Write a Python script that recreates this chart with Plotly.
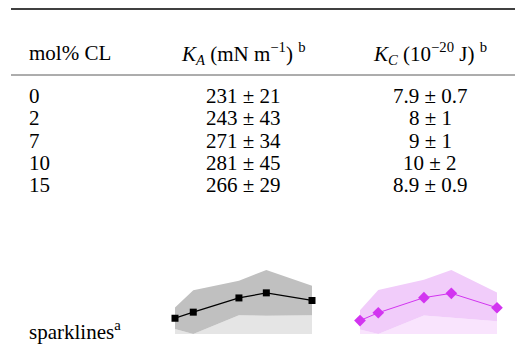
import plotly.graph_objects as go

# Table contents
mol_cl = [0, 2, 7, 10, 15]
ka_mean = [231, 243, 271, 281, 266]
ka_sd = [21, 43, 34, 45, 29]
kc_text = ["7.9 ± 0.7", "8 ± 1", "9 ± 1", "10 ± 2", "8.9 ± 0.9"]

# K_C sparkline series (centre line and band edges)
kc_spark_mid = [8.05, 8.66, 9.84, 10.18, 9.05]
kc_spark_low = [7.35, 7.0, 8.45, 8.26, 8.0]
kc_spark_high = [8.86, 10.44, 11.23, 12.0, 10.24]

W, H = 515, 344
FONT = "Liberation Serif, Times New Roman, serif"
FS = 21


def px(x):
    return x / W


def py(y):
    return 1 - y / H


fig = go.Figure()


def sparkline(xa, ya, mid, lower, upper, band, light, line, symbol, msize, lw):
    fig.add_trace(go.Scatter(x=mol_cl, y=lower, mode="lines", line=dict(width=0),
                             fill="tozeroy", fillcolor=light, xaxis=xa, yaxis=ya,
                             hoverinfo="skip", showlegend=False))
    fig.add_trace(go.Scatter(x=mol_cl, y=upper, mode="lines", line=dict(width=0),
                             fill="tonexty", fillcolor=band, xaxis=xa, yaxis=ya,
                             hoverinfo="skip", showlegend=False))
    fig.add_trace(go.Scatter(x=mol_cl, y=mid, mode="lines+markers",
                             line=dict(color=line, width=lw),
                             marker=dict(color=line, symbol=symbol, size=msize),
                             cliponaxis=False, xaxis=xa, yaxis=ya, showlegend=False))
    return [min(lower), max(upper)]


ka_low = [m - s for m, s in zip(ka_mean, ka_sd)]
ka_high = [m + s for m, s in zip(ka_mean, ka_sd)]
ka_range = sparkline("x", "y", ka_mean, ka_low, ka_high,
                     "rgb(192,192,192)", "rgb(229,229,229)",
                     "black", "square", 7, 1.2)
kc_range = sparkline("x2", "y2", kc_spark_mid, kc_spark_low, kc_spark_high,
                     "rgb(241,204,250)", "rgb(249,228,253)",
                     "rgb(210,52,240)", "diamond", 9, 1)

axis_off = dict(visible=False, showgrid=False, zeroline=False, fixedrange=True)
fig.update_layout(
    width=W, height=H, margin=dict(l=0, r=0, t=0, b=0),
    paper_bgcolor="white", plot_bgcolor="rgba(0,0,0,0)",
    xaxis=dict(domain=[px(175), px(312)], range=[0, 15], **axis_off),
    yaxis=dict(domain=[py(334), py(270)], range=ka_range, **axis_off),
    xaxis2=dict(domain=[px(360), px(497)], range=[0, 15], **axis_off),
    yaxis2=dict(domain=[py(334), py(270)], range=kc_range, **axis_off),
    font=dict(family=FONT, size=FS, color="black"),
)

# Rules
fig.add_shape(type="line", xref="paper", yref="paper", x0=px(11), x1=1,
              y0=py(9), y1=py(9), line=dict(color="black", width=1.3))
fig.add_shape(type="line", xref="paper", yref="paper", x0=px(11), x1=1,
              y0=py(75), y1=py(75), line=dict(color="rgb(90,90,90)", width=1))


def text(s, x, y, anchor="left"):
    fig.add_annotation(text=s, x=px(x), y=py(y), xref="paper", yref="paper",
                       xanchor=anchor, yanchor="middle", showarrow=False,
                       font=dict(family=FONT, size=FS, color="black"))


# Header
text("mol% CL", 27, 53)
text("<i>K</i><sub><i>A</i></sub> (mN m<sup>−1</sup>) <sup>b</sup>", 243, 53, "center")
text("<i>K</i><sub><i>C</i></sub> (10<sup>−20</sup> J) <sup>b</sup>", 430, 53, "center")

# Body rows
row_y = [96, 118, 141, 163, 185]
for m, ka, s, kc, y in zip(mol_cl, ka_mean, ka_sd, kc_text, row_y):
    text(str(m), 27, y)
    text(f"{ka} ± {s}", 243, y, "center")
    text(kc, 430, y, "center")

text("sparklines<sup>a</sup>", 27, 330)

fig.write_html("out.html")
